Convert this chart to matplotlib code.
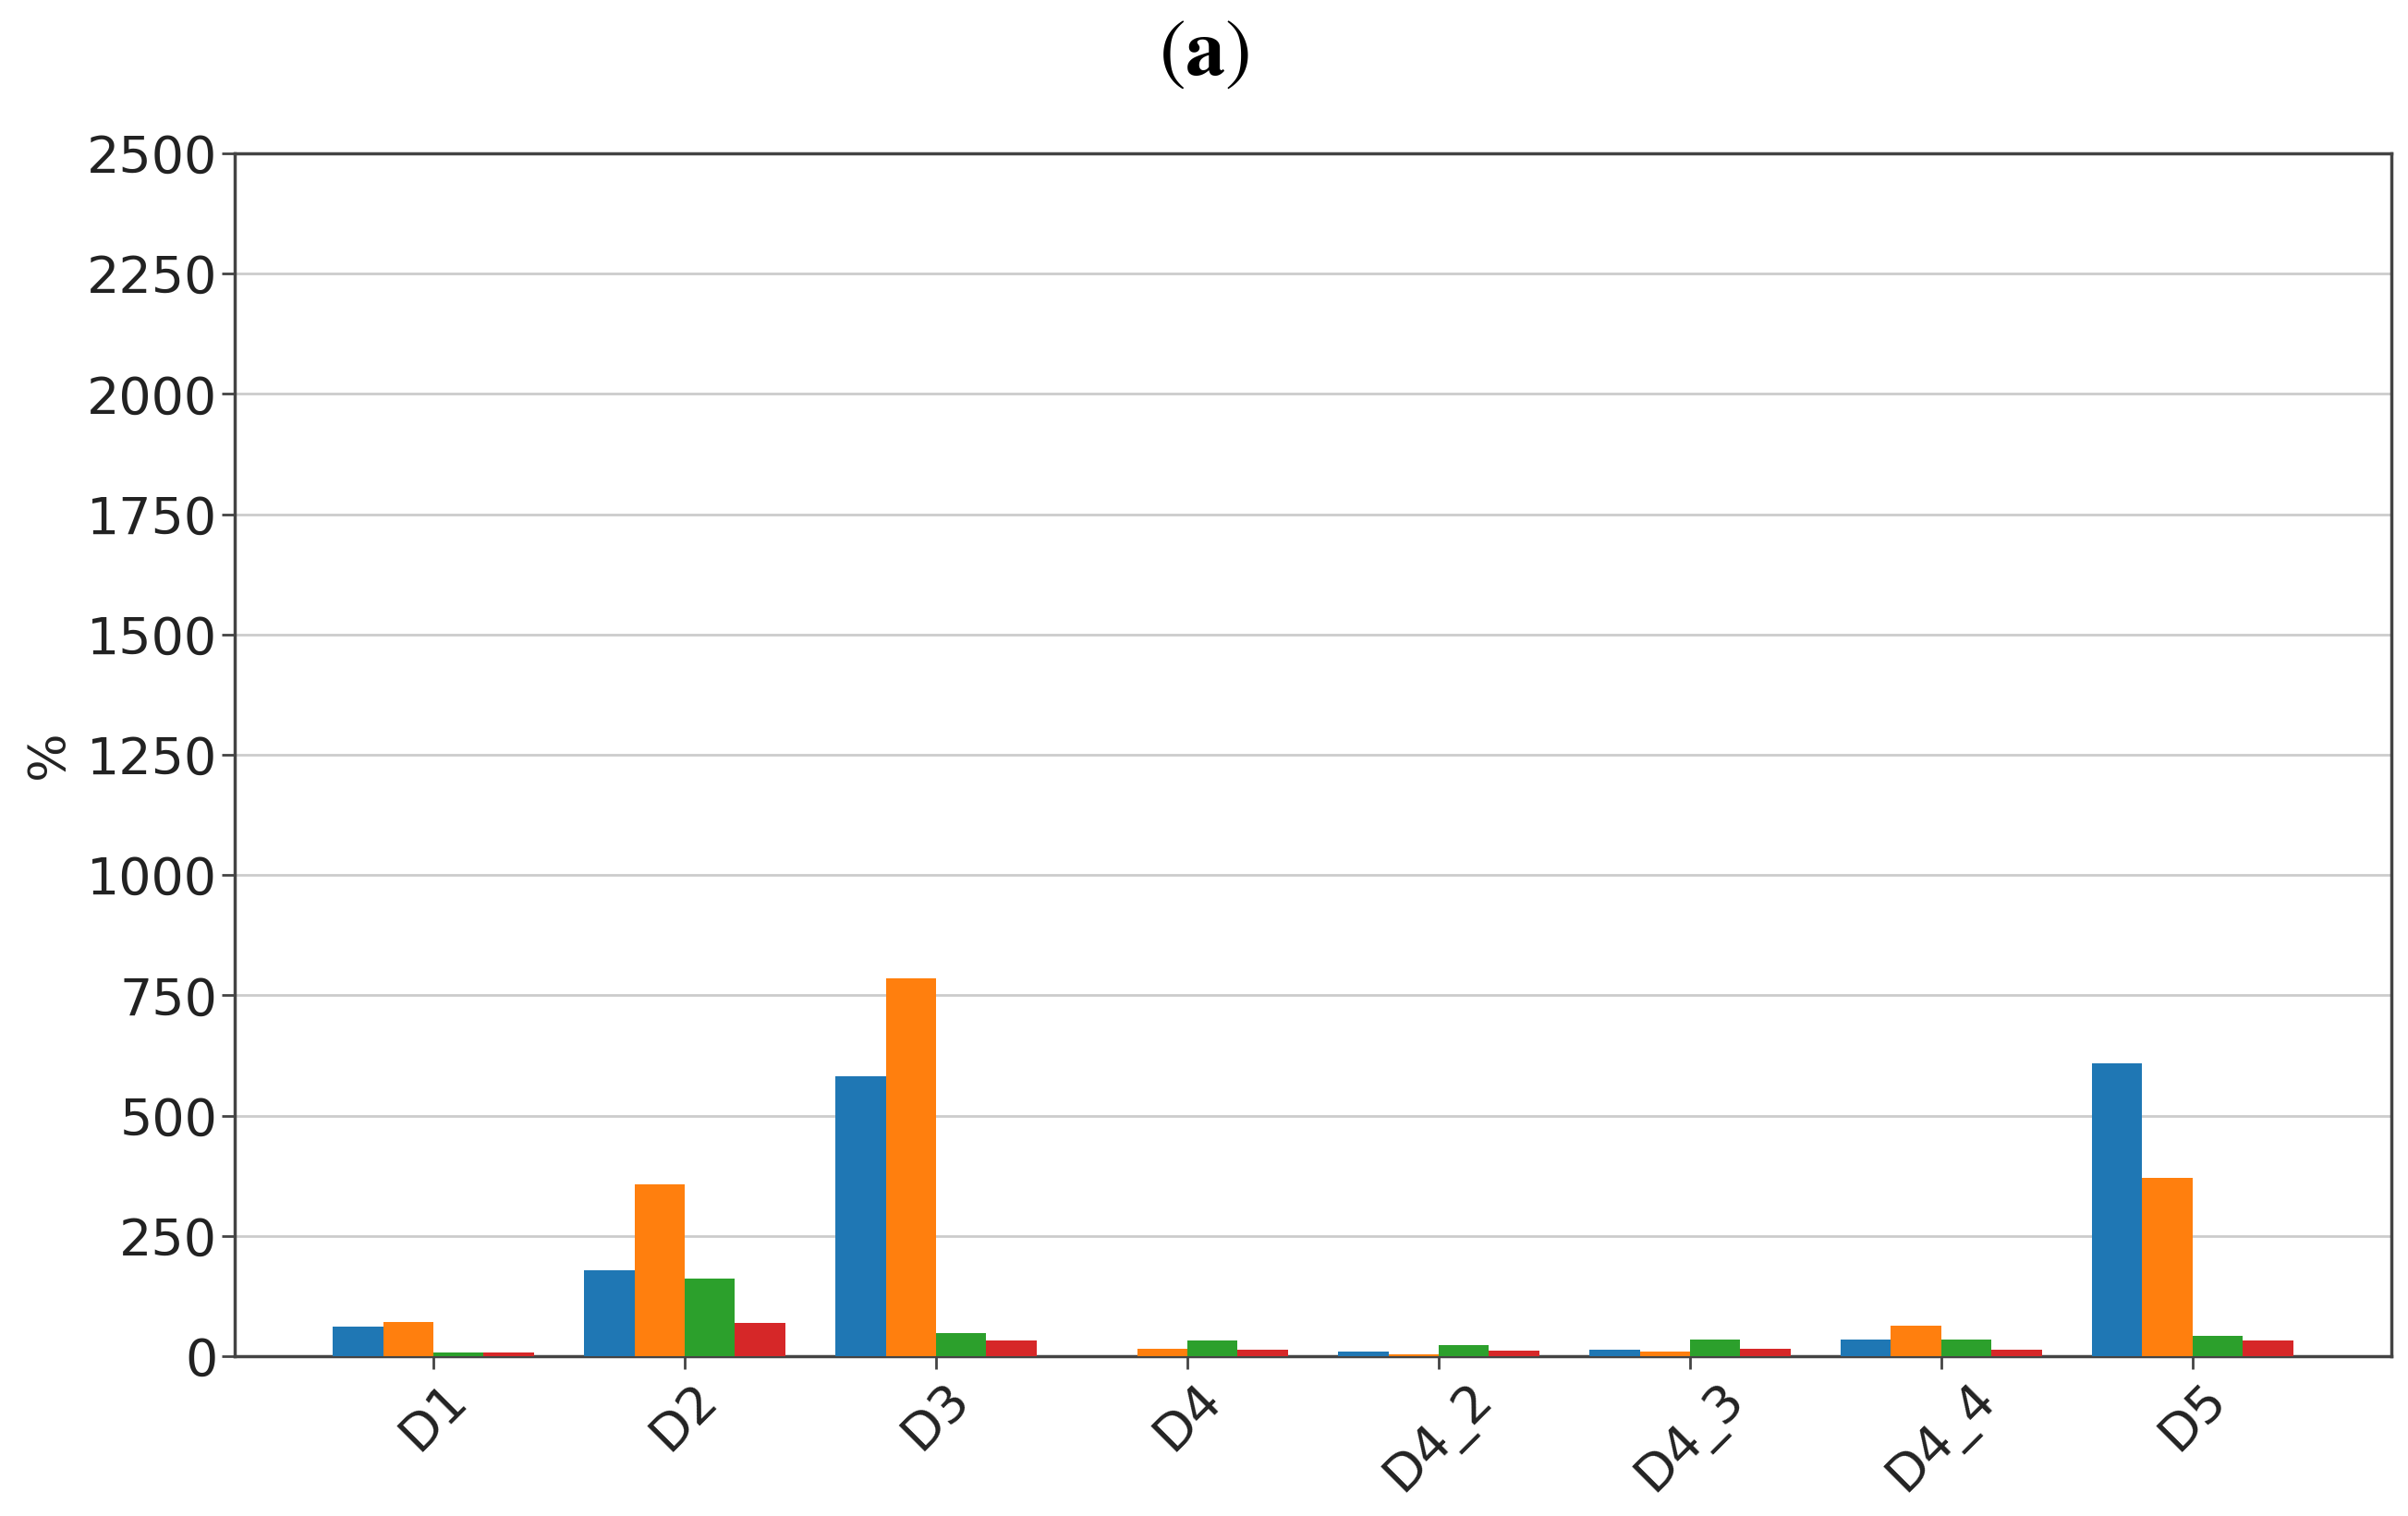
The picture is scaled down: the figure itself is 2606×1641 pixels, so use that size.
import numpy as np
import matplotlib.pyplot as plt

# categories and the four series (values in %)
categories = ['D1', 'D2', 'D3', 'D4', 'D4_2', 'D4_3', 'D4_4', 'D5']
series_1 = [62, 178, 581, 0, 10, 14, 34, 608]
series_2 = [72, 357, 785, 16, 3, 10, 63, 371]
series_3 = [8, 162, 49, 32, 24, 34, 34, 42]
series_4 = [8, 69, 33, 14, 11, 16, 14, 32]
y_ticks = [0, 250, 500, 750, 1000, 1250, 1500, 1750, 2000, 2250, 2500]

colors = ['#1f77b4', '#ff7f0e', '#2ca02c', '#d62728']

fig = plt.figure(figsize=(26.06, 16.41), dpi=100)
ax = fig.add_axes([0.0975, 0.1054, 0.8955, 0.7934])

x = np.arange(len(categories))
width = 0.2
all_series = [series_1, series_2, series_3, series_4]
for i, vals in enumerate(all_series):
    ax.bar(x + (i - 1.5) * width, vals, width, color=colors[i], zorder=3)

ax.set_ylim(0, 2500)
ax.set_yticks(y_ticks)
ax.set_xticks(x)
ax.set_xticklabels(categories, rotation=45)
ax.tick_params(axis='both', labelsize=40, length=10, width=2, color='#444444', labelcolor='#222222')
ax.yaxis.grid(True, color='#cccccc', linewidth=2, zorder=0)
ax.set_axisbelow(True)
for sp in ax.spines.values():
    sp.set_color('#444444')
    sp.set_linewidth(2.5)

ax.set_ylabel('%', fontsize=40, color='#222222', labelpad=10)

fig.text(0.5, 0.965, r'$(\mathbf{a})$', ha='center', va='center', fontsize=62, math_fontfamily='stix')

fig.savefig('out.png', dpi=100)
